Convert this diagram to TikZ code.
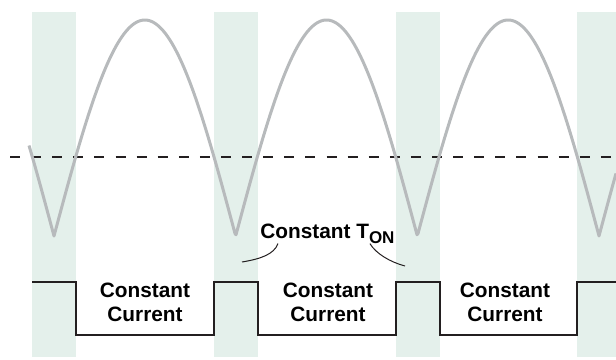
\documentclass[tikz,border=0pt]{standalone}
\usepackage{fontspec}
\setmainfont{Liberation Sans}
\usepackage{tikz}
\usetikzlibrary{positioning}
\definecolor{bandgreen}{HTML}{E4F0EB}
\definecolor{sinegray}{HTML}{B7BABC}
\definecolor{wavedark}{HTML}{231F20}

\begin{document}
\begin{tikzpicture}[x=0.5pt,y=-0.5pt,
    band/.style={fill=bandgreen},
    sine/.style={draw=sinegray, line width=1.5pt, line join=round},
    pulse/.style={draw=wavedark, line width=1pt},
    level/.style={draw=wavedark, line width=1pt, dash pattern=on 5pt off 5.55pt},
    lbl/.style={font=\bfseries\fontsize{10.4}{12}\selectfont, align=center, inner sep=0pt},
    leader/.style={draw=wavedark, line width=0.5pt}]
  \useasboundingbox (0,0) rectangle (616,359);
  \clip (0,0) rectangle (616,359);
  \foreach \x in {32,214,396,577} {
    \fill[band] (\x,12) rectangle ++(44,345);
  }
  \draw[level] (10,157) -- (616,157);
  \draw[sine] plot[samples at={29,30,...,616}]
    (\x,{236-216*abs(sin((\x-54)/181.67*180))});
  \draw[pulse] (32,282) -- (76,282) -- (76,335) -- (214,335) -- (214,282)
    -- (258,282) -- (258,335) -- (396,335) -- (396,282) -- (440,282)
    -- (440,335) -- (577,335) -- (577,282) -- (616,282);
  \foreach \x/\n in {145/cc1, 328/cc2, 505/cc3} {
    \node[lbl] (\n) at (\x,302.5) {Constant\\Current};
  }
  \node[lbl, anchor=base west] (ton) at (260,238)
    {Constant T\raisebox{-2.5pt}{\fontsize{8.5}{9}\selectfont ON}};
  \coordinate (tonl) at (242,262);
  \coordinate (tonr) at (405,266);
  \draw[leader] ([xshift=9pt]ton.south west) .. controls +(-4,11) and +(18,-3) .. (tonl);
  \draw[leader] ([xshift=-12.5pt]ton.south east) .. controls +(6,10) and +(-15,-4) .. (tonr);
\end{tikzpicture}
\end{document}
